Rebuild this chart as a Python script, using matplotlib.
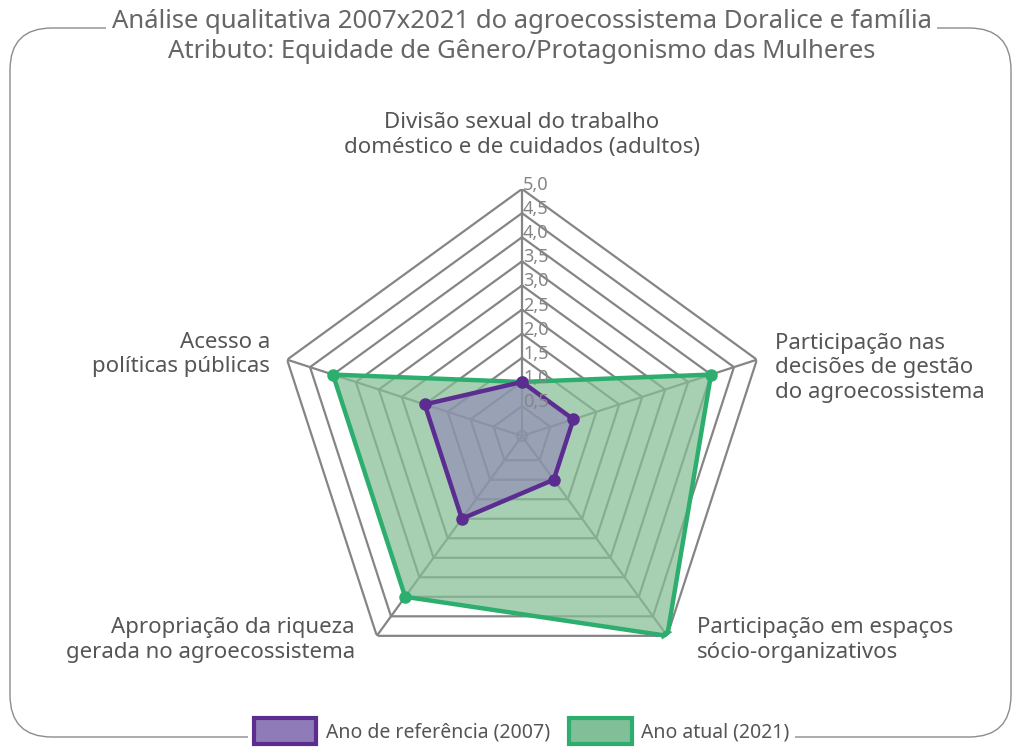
import numpy as np
import matplotlib
matplotlib.use("Agg")
import matplotlib.pyplot as plt
from matplotlib.patches import FancyBboxPatch, Patch

plt.rcParams['font.family'] = ['Noto Sans', 'DejaVu Sans']

# data
categories = [
    "Divisão sexual do trabalho\ndoméstico e de cuidados (adultos)",
    "Participação nas\ndecisões de gestão\ndo agroecossistema",
    "Participação em espaços\nsócio-organizativos",
    "Apropriação da riqueza\ngerada no agroecossistema",
    "Acesso a\npolíticas públicas",
]
ref_2007 = [1.0, 1.0, 1.0, 2.0, 2.0]
atual_2021 = [1.0, 4.0, 5.0, 4.0, 4.0]
ring_values = [0.0, 0.5, 1.0, 1.5, 2.0, 2.5, 3.0, 3.5, 4.0, 4.5, 5.0]
series_labels = ["Ano de referência (2007)", "Ano atual (2021)"]
title_lines = ["Análise qualitativa 2007x2021 do agroecossistema Doralice e família",
               "Atributo: Equidade de Gênero/Protagonismo das Mulheres"]

purple_line = '#5c2d91'
purple_fill = '#8f7bb8'
green_line = '#2eae6e'
green_fill = '#86bf95'
grid_col = '#858585'
text_col = '#555555'

fig = plt.figure(figsize=(10.19, 7.47), dpi=100)

# rounded outer frame
frame = FancyBboxPatch((0.10, 0.10), 10.01, 7.09,
                       boxstyle='round,pad=0,rounding_size=0.42',
                       transform=fig.dpi_scale_trans, facecolor='none',
                       edgecolor='#8c8c8c', lw=1.0)
fig.patches.append(frame)

ax = fig.add_axes([0.26987, 0.08568, 494 / 1019, 494 / 747], projection='polar')
ax.set_theta_offset(np.pi / 2)
ax.set_theta_direction(-1)
ax.set_ylim(-0.12, 5.0)
ax.grid(False)
ax.set_xticks([])
ax.set_yticks([])
ax.spines['polar'].set_visible(False)
ax.patch.set_visible(False)

n = len(categories)
angles = np.linspace(0, 2 * np.pi, n, endpoint=False)
closed = np.append(angles, angles[0])

# pentagon grid
for v in ring_values:
    ax.plot(closed, [v] * (n + 1), color=grid_col, lw=1.6, zorder=1)
for a in angles:
    ax.plot([a, a], [-0.12, 5.0], color=grid_col, lw=1.6, zorder=1)

# series
g = atual_2021 + atual_2021[:1]
p = ref_2007 + ref_2007[:1]
ax.fill(closed, g, color=green_fill, alpha=0.72, zorder=2, lw=0)
ax.fill(closed, p, color=purple_fill, alpha=0.55, zorder=3, lw=0)
ax.plot(closed, g, color=green_line, lw=3.2, zorder=4)
ax.plot(angles, atual_2021, 'o', color=green_line, ms=8, zorder=4)
ax.plot(closed, p, color=purple_line, lw=3.2, zorder=5)
ax.plot(angles, ref_2007, 'o', color=purple_line, ms=8, zorder=5)

# radial tick labels
for v in ring_values[1:]:
    ax.annotate(f"{v:.1f}".replace('.', ','), xy=(0, v), xytext=(1, 4),
                textcoords='offset pixels', ha='left', va='center',
                fontsize=13, color='#858585', zorder=6)

# category labels
offsets = [(0, 54), (18, -8), (30, -4), (-22, -4), (-17, 5)]
aligns = ['center', 'left', 'left', 'right', 'right']
for a, lab, off, ha in zip(angles, categories, offsets, aligns):
    ax.annotate(lab, xy=(a, 5.0), xytext=off, textcoords='offset pixels',
                ha=ha, va='center', multialignment=ha, fontsize=16,
                color=text_col, linespacing=1.22, annotation_clip=False)

# title with white background over the frame line
for i, line in enumerate(title_lines):
    fig.text(0.512, 1 - (22 + 30 * i) / 747, line, ha='center', va='center',
             fontsize=18.5, color='#666666',
             bbox=dict(facecolor='white', edgecolor='none', pad=4))

handles = [Patch(facecolor=purple_fill, edgecolor=purple_line, lw=3),
           Patch(facecolor='#80bf98', edgecolor=green_line, lw=3)]
leg = fig.legend(handles, series_labels, loc='center', ncol=2,
                 bbox_to_anchor=(0.512, 1 - 731 / 747), frameon=True,
                 fontsize=14, handlelength=3.2, handleheight=1.7,
                 columnspacing=1.0, handletextpad=0.5, borderpad=0.3,
                 labelcolor=text_col)
leg.get_frame().set_facecolor('white')
leg.get_frame().set_edgecolor('none')
leg.get_frame().set_alpha(1)

fig.savefig('out.png', dpi=100)
